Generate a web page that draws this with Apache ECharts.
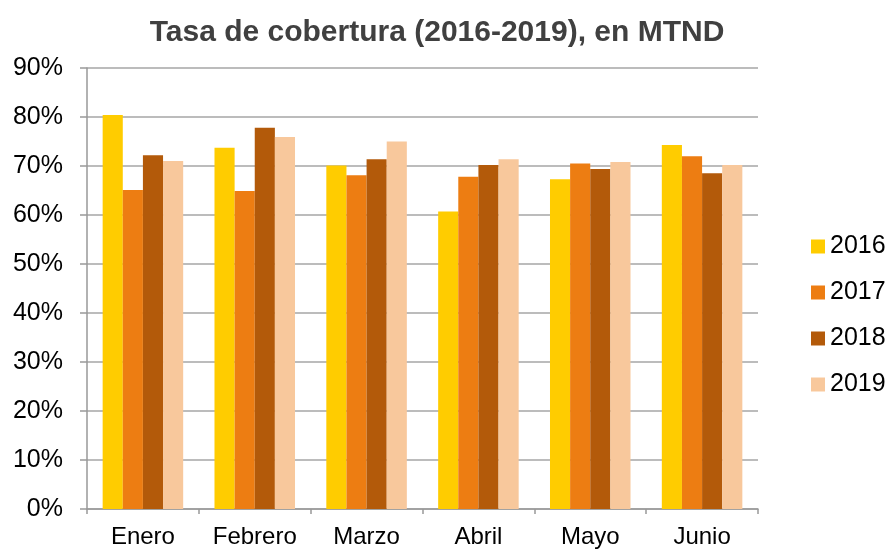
<!DOCTYPE html>
<html>
<head>
<meta charset="utf-8">
<script src="https://cdn.jsdelivr.net/npm/echarts@6/dist/echarts.min.js"></script>
<style>
  html, body { margin: 0; padding: 0; background: #fff; }
  #chart { width: 893px; height: 549px; }
</style>
</head>
<body>
<div id="chart"></div>
<script>
// datos
const months = ["Enero", "Febrero", "Marzo", "Abril", "Mayo", "Junio"];
const years = ["2016", "2017", "2018", "2019"];
const v2016 = [80.4, 73.7, 70.1, 60.7, 67.3, 74.3];
const v2017 = [65.1, 64.9, 68.1, 67.8, 70.5, 72.0];
const v2018 = [72.2, 77.8, 71.4, 70.2, 69.4, 68.5];
const v2019 = [71.0, 75.9, 75.0, 71.4, 70.8, 70.2];
const colors = ["#FFCC00", "#ED7D12", "#B35A0A", "#F8C89C"];

const chart = echarts.init(document.getElementById("chart"));
const font = "Liberation Sans, Arial, sans-serif";

const makeSeries = (name, data, color) => ({
  name: name,
  type: "bar",
  data: data,
  barGap: "0%",
  barCategoryGap: "28%",
  itemStyle: { color: color },
});

const option = {
  animation: false,
  title: {
    text: "Tasa de cobertura (2016-2019), en MTND",
    left: 432,
    textAlign: "center",
    top: 13,
    textStyle: { fontFamily: font, fontSize: 30, fontWeight: "bold", color: "#404040" },
  },
  legend: {
    orient: "vertical",
    left: 806,
    top: 229,
    itemWidth: 14,
    itemHeight: 14,
    itemGap: 21,
    icon: "rect",
    textStyle: { fontFamily: font, fontSize: 25, color: "#000" },
    data: years,
  },
  grid: { left: 87, right: 135, top: 68, bottom: 40 },
  xAxis: {
    type: "category",
    data: months,
    axisLine: { lineStyle: { color: "#999", width: 1.5 } },
    axisTick: { show: true, length: 5, lineStyle: { color: "#999", width: 1.5 } },
    axisLabel: { fontFamily: font, fontSize: 24, color: "#000", margin: 16 },
  },
  yAxis: {
    type: "value",
    min: 0,
    max: 90,
    interval: 10,
    axisLine: { show: true, lineStyle: { color: "#999", width: 1.5 } },
    axisTick: { show: true, length: 7, lineStyle: { color: "#999", width: 1.5 } },
    axisLabel: { fontFamily: font, fontSize: 25, color: "#000", margin: 24, formatter: "{value}%" },
    splitLine: { lineStyle: { color: "#a6a6a6", width: 1.5 } },
  },
  series: [
    makeSeries(years[0], v2016, colors[0]),
    makeSeries(years[1], v2017, colors[1]),
    makeSeries(years[2], v2018, colors[2]),
    makeSeries(years[3], v2019, colors[3]),
  ],
};

chart.setOption(option);
</script>
</body>
</html>
